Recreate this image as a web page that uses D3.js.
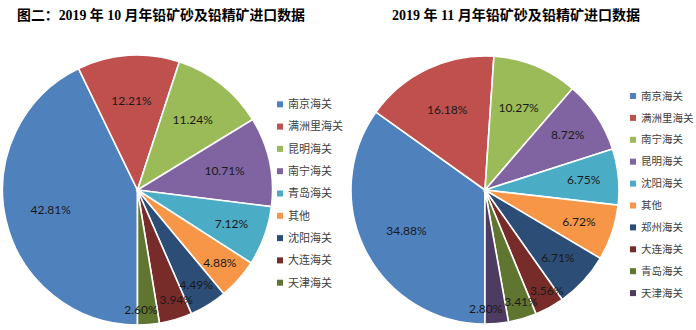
<!DOCTYPE html>
<html><head><meta charset="utf-8">
<script src="https://cdn.jsdelivr.net/npm/d3@7"></script>
<style>body{margin:0;background:#fff}svg{display:block}</style>
</head><body>
<svg id="c" width="696" height="330"></svg>
<script>
const octCategories = ["南京海关","满洲里海关","昆明海关","南宁海关","青岛海关","其他","沈阳海关","大连海关","天津海关"];
const octValues = [42.81,12.21,11.24,10.71,7.12,4.88,4.49,3.94,2.60];
const novCategories = ["南京海关","满洲里海关","南宁海关","昆明海关","沈阳海关","其他","郑州海关","大连海关","青岛海关","天津海关"];
const novValues = [34.88,16.18,10.27,8.72,6.75,6.72,6.71,3.56,3.41,2.80];
const titles = ["图二：2019 年 10 月年铅矿砂及铅精矿进口数据","2019 年 11 月年铅矿砂及铅精矿进口数据"];
const palette = ["#4F81BD","#C0504D","#9BBB59","#8064A2","#4BACC6","#F79646","#2C4D75","#772C2A","#5F7530","#4D3B62"];

const svg = d3.select("#c");
const color = d3.scaleOrdinal().domain(d3.range(10)).range(palette);

function drawPie(cats, vals, cx, cy, R, legX, legY, legStep, legFont, title, titleX, titleW) {
  const t = svg.append("text").attr("x", titleX).attr("y", 20)
    .attr("font-family", "'Liberation Serif', 'Noto Sans CJK SC'").attr("font-weight", "bold")
    .attr("font-size", 14).attr("fill", "#000").text(title);
  t.attr("textLength", titleW).attr("lengthAdjust", "spacingAndGlyphs");
  const total = d3.sum(vals);
  const pie = d3.pie().sort(null).startAngle(Math.PI).endAngle(3 * Math.PI);
  const arcs = pie(vals);
  const arc = d3.arc().innerRadius(0).outerRadius(R);
  const g = svg.append("g").attr("transform", `translate(${cx},${cy})`);
  g.selectAll("path").data(arcs).join("path")
    .attr("d", arc).attr("fill", (d, i) => color(i))
    .attr("stroke", "#fff").attr("stroke-width", 1.6);
  const labels = g.selectAll("text").data(arcs).join("text")
    .attr("text-anchor", "middle").attr("dy", "0.35em")
    .attr("font-family", "Lato, 'Open Sans', sans-serif").attr("font-size", 12)
    .attr("fill", "#1a1a1a")
    .text(d => d3.format(".2f")(d.value) + "%");
  const pos = arcs.map(d => {
    const f = d.value / total;
    const k = f >= 0.09 ? 0.66 : (f >= 0.05 ? 0.74 : 0.81 + (0.05 - f) * 3.5);
    const a = (d.startAngle + d.endAngle) / 2;
    return { x: Math.sin(a) * R * k, y: -Math.cos(a) * R * k };
  });
  labels.each(function (d, i) { pos[i].w = this.getComputedTextLength(); });
  for (let i = 1; i < pos.length; i++) {
    const p = pos[i - 1], q = pos[i];
    const need = (p.w + q.w) / 2 + 2;
    const dx = Math.abs(p.x - q.x);
    if (dx < need && Math.abs(p.y - q.y) < 12) {
      const s = (need - dx) / 2, dir = p.x >= q.x ? 1 : -1;
      p.x += dir * s; q.x -= dir * s;
    }
  }
  labels.attr("transform", (d, i) => `translate(${pos[i].x},${pos[i].y})`);
  const lg = svg.append("g");
  cats.forEach((c, i) => {
    const y = legY + i * legStep;
    lg.append("rect").attr("x", legX).attr("y", y - 3).attr("width", 6).attr("height", 6).attr("fill", color(i));
    lg.append("text").attr("x", legX + 11).attr("y", y).attr("dy", "0.35em")
      .attr("font-family", "'Noto Sans CJK SC'").attr("font-size", legFont).attr("fill", "#404040")
      .text(c);
  });
}

drawPie(octCategories, octValues, 137.5, 190, 135, 277, 104.3, 22.3, 11, titles[0], 17, 288);
drawPie(novCategories, novValues, 485, 190, 134, 630, 96, 21.9, 10.5, titles[1], 392, 248);
</script>
</body></html>
